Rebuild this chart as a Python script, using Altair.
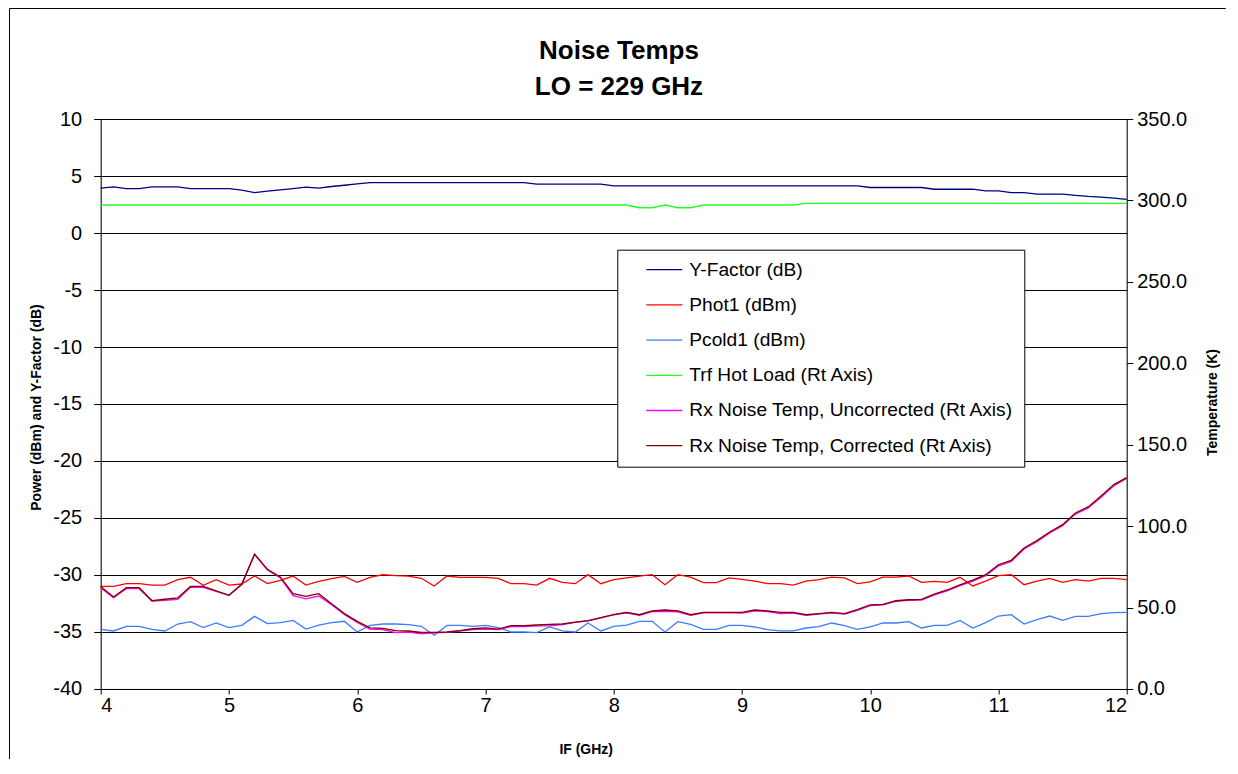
import altair as alt
import pandas as pd

# IF frequency grid (GHz)
if_ghz = [4.0, 4.1, 4.2, 4.3, 4.4, 4.5, 4.6, 4.7, 4.8, 4.9,
          5.0, 5.1, 5.2, 5.3, 5.4, 5.5, 5.6, 5.7, 5.8, 5.9,
          6.0, 6.1, 6.2, 6.3, 6.4, 6.5, 6.6, 6.7, 6.8, 6.9,
          7.0, 7.1, 7.2, 7.3, 7.4, 7.5, 7.6, 7.7, 7.8, 7.9,
          8.0, 8.1, 8.2, 8.3, 8.4, 8.5, 8.6, 8.7, 8.8, 8.9,
          9.0, 9.1, 9.2, 9.3, 9.4, 9.5, 9.6, 9.7, 9.8, 9.9,
          10.0, 10.1, 10.2, 10.3, 10.4, 10.5, 10.6, 10.7, 10.8, 10.9,
          11.0, 11.1, 11.2, 11.3, 11.4, 11.5, 11.6, 11.7, 11.8, 11.9, 12.0]

# Left axis series (dB / dBm)
y_factor = [3.93, 4.05, 3.90, 3.90, 4.05, 4.05, 4.05, 3.90, 3.90, 3.90,
            3.90, 3.76, 3.55, 3.67, 3.79, 3.90, 4.02, 3.93, 4.08, 4.19,
            4.31, 4.42, 4.42, 4.42, 4.42, 4.42, 4.42, 4.42, 4.42, 4.42,
            4.42, 4.42, 4.42, 4.42, 4.28, 4.28, 4.28, 4.28, 4.28, 4.28,
            4.13, 4.13, 4.13, 4.13, 4.13, 4.13, 4.13, 4.13, 4.13, 4.13,
            4.13, 4.13, 4.13, 4.13, 4.13, 4.13, 4.13, 4.13, 4.13, 4.13,
            3.99, 3.99, 3.99, 3.99, 3.99, 3.84, 3.84, 3.84, 3.84, 3.70,
            3.70, 3.55, 3.55, 3.41, 3.41, 3.41, 3.30, 3.21, 3.15, 3.06, 2.95]

phot1 = [-30.99, -31.00, -30.76, -30.76, -30.88, -30.88, -30.41, -30.20, -30.90, -30.41,
         -30.88, -30.79, -30.09, -30.76, -30.47, -30.09, -30.88, -30.56, -30.32, -30.12,
         -30.65, -30.20, -29.97, -30.06, -30.09, -30.29, -30.96, -30.09, -30.20, -30.20,
         -30.20, -30.29, -30.76, -30.76, -30.88, -30.29, -30.64, -30.76, -29.97, -30.76,
         -30.41, -30.26, -30.09, -29.97, -30.85, -29.97, -30.18, -30.67, -30.67, -30.26,
         -30.38, -30.53, -30.76, -30.76, -30.88, -30.53, -30.41, -30.18, -30.26, -30.76,
         -30.60, -30.18, -30.18, -30.09, -30.64, -30.56, -30.64, -30.20, -30.96, -30.53,
         -30.06, -29.97, -30.85, -30.53, -30.29, -30.64, -30.41, -30.53, -30.29, -30.29, -30.41]

pcold1 = [-34.77, -34.91, -34.50, -34.50, -34.77, -34.91, -34.30, -34.09, -34.62, -34.21,
          -34.62, -34.42, -33.63, -34.27, -34.18, -33.98, -34.74, -34.39, -34.18, -34.06,
          -35.00, -34.42, -34.30, -34.30, -34.36, -34.50, -35.29, -34.42, -34.42, -34.50,
          -34.42, -34.62, -35.00, -35.00, -35.06, -34.56, -34.91, -35.00, -34.21, -34.91,
          -34.50, -34.39, -34.06, -34.06, -35.00, -34.09, -34.33, -34.77, -34.77, -34.42,
          -34.42, -34.56, -34.80, -34.91, -34.91, -34.65, -34.53, -34.21, -34.44, -34.77,
          -34.55, -34.21, -34.21, -34.09, -34.65, -34.42, -34.42, -33.98, -34.65, -34.18,
          -33.60, -33.48, -34.30, -33.92, -33.60, -33.98, -33.63, -33.63, -33.39, -33.30, -33.27]

# Right axis series (K)
trf_hot = [297.2] * 42 + [295.5, 295.5, 297.2, 295.5, 295.5] + [297.2] * 8 + [298.2] * 26

rx_uncorr = [62.0, 56.1, 61.6, 61.6, 54.0, 54.4, 55.1, 62.4, 62.4, 60.0,
             57.5, 64.3, 82.7, 73.1, 68.4, 57.3, 55.3, 57.1, 51.8, 45.8,
             40.8, 36.8, 36.4, 34.6, 35.0, 33.8, 34.4, 34.8, 35.6, 36.4,
             36.8, 36.4, 38.3, 38.3, 38.7, 38.7, 39.5, 40.9, 41.8, 43.6,
             45.6, 46.8, 45.3, 47.5, 47.7, 47.3, 45.3, 46.8, 46.8, 46.8,
             46.6, 48.0, 47.5, 46.3, 46.6, 45.3, 46.0, 46.8, 46.0, 48.2,
             51.2, 51.6, 53.8, 54.4, 54.6, 57.8, 60.3, 63.4, 66.3, 69.6,
             75.6, 78.3, 86.0, 90.4, 95.8, 100.2, 107.4, 111.1, 117.8, 124.8, 129.3]

rx_corr = [63.0, 56.5, 62.2, 62.2, 54.2, 55.1, 55.9, 63.0, 63.0, 60.2,
           57.5, 64.3, 82.7, 73.5, 68.8, 58.5, 56.9, 58.5, 52.4, 46.3,
           41.5, 37.5, 37.2, 35.8, 35.6, 34.8, 34.8, 35.0, 35.8, 37.0,
           37.5, 36.8, 38.9, 38.9, 39.3, 39.7, 39.9, 41.1, 42.0, 43.8,
           45.7, 47.1, 45.6, 47.9, 48.5, 47.9, 45.6, 47.1, 47.1, 47.1,
           47.1, 48.5, 47.9, 47.1, 47.1, 45.6, 46.3, 47.1, 46.3, 48.7,
           51.7, 52.0, 54.2, 54.8, 55.0, 58.3, 60.8, 63.9, 66.9, 70.2,
           76.3, 79.0, 86.6, 91.1, 96.4, 100.9, 108.1, 111.8, 118.5, 125.5, 129.8]

series_names = ["Y-Factor (dB)", "Phot1 (dBm)", "Pcold1 (dBm)", "Trf Hot Load (Rt Axis)",
                "Rx Noise Temp, Uncorrected (Rt Axis)", "Rx Noise Temp, Corrected (Rt Axis)"]
series_colors = ["#000080", "#FF0000", "#3D7BFF", "#22FF22", "#FF00FF", "#800000"]

title_lines = ["Noise Temps", "LO = 229 GHz"]

x_ticks = [4, 5, 6, 7, 8, 9, 10, 11, 12]
left_ticks = [-40, -35, -30, -25, -20, -15, -10, -5, 0, 5, 10]
right_ticks = [0, 50, 100, 150, 200, 250, 300, 350]


def long_frame(names, arrays):
    rows = []
    for name, arr in zip(names, arrays):
        for xv, v in zip(if_ghz, arr):
            rows.append({"if_ghz": xv, "value": v, "series": name})
    return pd.DataFrame(rows)


left_df = long_frame(series_names[:3], [y_factor, phot1, pcold1])
right_df = long_frame(series_names[3:], [trf_hot, rx_uncorr, rx_corr])

FONT = "Liberation Sans"
TICK_FS = 20

color_enc = alt.Color(
    "series:N",
    scale=alt.Scale(domain=series_names, range=series_colors),
    legend=alt.Legend(
        title=None, orient="none", legendX=516.6, legendY=130.7, direction="vertical",
        symbolType="M-1,0M1,0H5", symbolSize=324, symbolStrokeWidth=1.3,
        labelFont=FONT, labelFontSize=19.2, labelColor="black", labelOffset=42,
        labelLimit=0, rowPadding=14.2, padding=10,
        strokeColor="black", fillColor="white",
    ),
)

x_enc = alt.X(
    "if_ghz:Q",
    scale=alt.Scale(domain=[4, 12], nice=False, zero=False),
    axis=alt.Axis(
        values=x_ticks, labelExpr="'' + datum.value", title="IF (GHz)", grid=False,
        domainColor="black", tickColor="black", tickSize=5,
        labelFont=FONT, labelFontSize=TICK_FS, labelColor="black", labelPadding=2,
        titleFont=FONT, titleFontSize=14, titleFontWeight="bold", titleColor="black",
        titleX=485, titleY=61, titleBaseline="middle",
    ),
)

left = alt.Chart(left_df).mark_line(strokeWidth=1.3).encode(
    x=x_enc,
    y=alt.Y(
        "value:Q",
        scale=alt.Scale(domain=[-40, 10], nice=False, zero=False),
        axis=alt.Axis(
            orient="left", values=left_ticks, labelExpr="'' + datum.value",
            title="Power (dBm) and Y-Factor (dB)",
            grid=True, gridColor="black", gridOpacity=1, gridWidth=1,
            domainColor="black", tickColor="black", tickSize=7,
            labelFont=FONT, labelFontSize=TICK_FS, labelColor="black", labelPadding=12,
            titleFont=FONT, titleFontSize=14, titleFontWeight="bold", titleColor="black",
            titleX=-64, titleY=288, titleAngle=270, titleBaseline="middle", titleAlign="center",
        ),
    ),
    color=color_enc,
)

right = alt.Chart(right_df).mark_line(strokeWidth=1.3).encode(
    x=x_enc,
    y=alt.Y(
        "value:Q",
        scale=alt.Scale(domain=[0, 350], nice=False, zero=False),
        axis=alt.Axis(
            orient="right", values=right_ticks, format=".1f",
            title="Temperature (K)", grid=False,
            domainColor="black", tickColor="black", tickSize=6,
            labelFont=FONT, labelFontSize=TICK_FS, labelColor="black", labelPadding=4,
            titleFont=FONT, titleFontSize=14, titleFontWeight="bold", titleColor="black",
            titleX=86, titleY=283, titleAngle=270, titleBaseline="middle", titleAlign="center",
        ),
    ),
    color=color_enc,
)

frame_df = pd.DataFrame({"k": [0]})
border_left = alt.Chart(frame_df).mark_rule(color="black", strokeWidth=1).encode(
    x=alt.value(-91.2), y=alt.value(-110.5), y2=alt.value(640)
)
border_top = alt.Chart(frame_df).mark_rule(color="black", strokeWidth=1).encode(
    x=alt.value(-91.2), x2=alt.value(1125), y=alt.value(-110.5)
)

title_1 = alt.Chart(frame_df).mark_text(
    font=FONT, fontSize=26, fontWeight="bold", color="black", align="center", baseline="middle"
).encode(x=alt.value(518.3), y=alt.value(-68), text=alt.value(title_lines[0]))
title_2 = alt.Chart(frame_df).mark_text(
    font=FONT, fontSize=26, fontWeight="bold", color="black", align="center", baseline="middle"
).encode(x=alt.value(518.3), y=alt.value(-32), text=alt.value(title_lines[1]))

chart = (
    alt.layer(left, right, border_left, border_top, title_1, title_2)
    .resolve_scale(y="independent")
    .properties(
        width=1026,
        height=570,
        autosize=alt.AutoSizeParams(type="none"),
        padding={"left": 92.7, "top": 111, "right": 100, "bottom": 70},
    )
    .configure_view(stroke=None)
    .configure(background="white")
)

chart.save("out.html", embed_options={"renderer": "svg", "actions": False})
